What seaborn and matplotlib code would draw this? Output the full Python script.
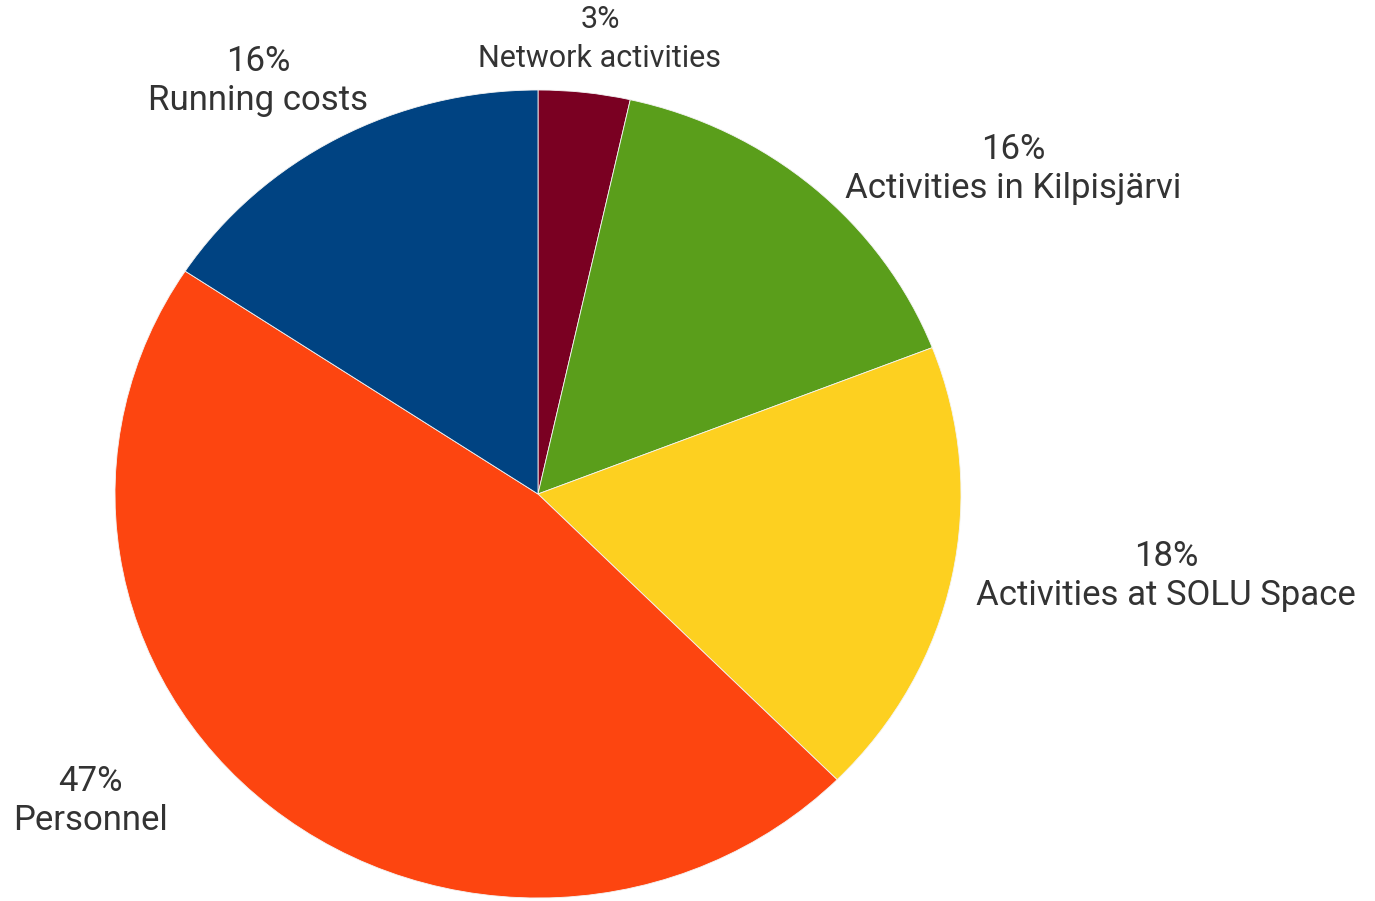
import matplotlib
matplotlib.use("Agg")
import matplotlib.pyplot as plt
import seaborn as sns

# budget shares, clockwise from 12 o'clock
categories = ["Network activities", "Activities in Kilpisjärvi", "Activities at SOLU Space",
              "Personnel", "Running costs"]
shares = [3.5, 15.6, 18.4, 46.8, 15.7]
pct_labels = ["3%", "16%", "18%", "47%", "16%"]
colors = ["#7a0022", "#5a9e1b", "#fdd020", "#fd4510", "#004382"]

sns.set_theme(style="white")
plt.rcParams['font.family'] = ['Roboto', 'DejaVu Sans']

W, H = 1375, 901
fig = plt.figure(figsize=(W / 100, H / 100), dpi=100)
# pie is a bit wider than tall in the reference
cx, cy, rx, ry = 538, 494, 423, 404
ax = fig.add_axes([(cx - rx) / W, 1 - (cy + ry) / H, 2 * rx / W, 2 * ry / H])
ax.pie(shares, colors=colors, startangle=90, counterclock=False,
       wedgeprops=dict(edgecolor="#f4f4f4", linewidth=0.6))
ax.set_aspect('auto')
ax.set_xlim(-1, 1)
ax.set_ylim(-1, 1)
ax.axis('off')

# label positions (pixel centres of the two-line blocks), sizes, spacing
label_pos = [(600, 39), (1013, 169), (1166, 576), (90, 801), (258, 81)]
label_size = [22, 25, 25, 25, 25]
label_spacing = [1.4, 1.2, 1.2, 1.2, 1.2]
for name, pct, (px, py), fs, ls in zip(categories, pct_labels, label_pos,
                                       label_size, label_spacing):
    fig.text(px / W, 1 - py / H, f"{pct}\n{name}", ha='center', va='center',
             fontsize=fs, color="#333333", linespacing=ls)

fig.savefig("out.png", dpi=100)
